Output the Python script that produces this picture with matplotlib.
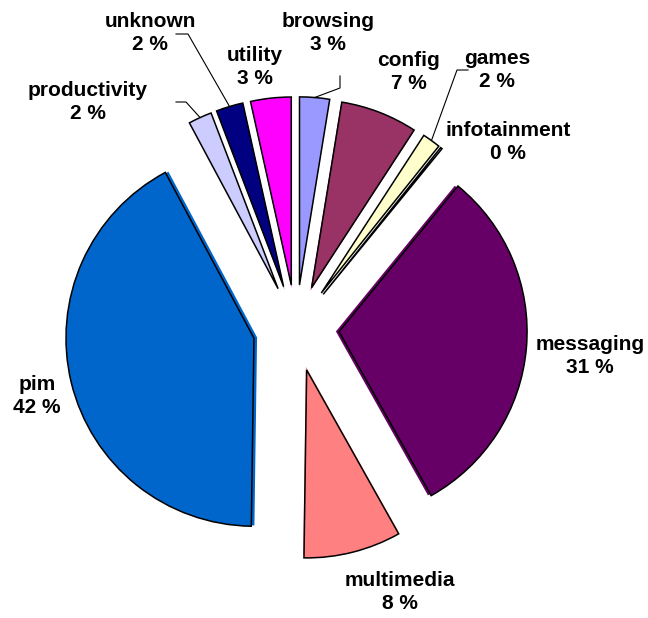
import matplotlib
matplotlib.use("Agg")
import matplotlib.pyplot as plt
import numpy as np

# slices, clockwise from 12 o'clock
categories = ["browsing", "config", "games", "infotainment", "messaging",
              "multimedia", "pim", "productivity", "unknown", "utility"]
shares = [2.55, 6.55, 1.55, 0.15, 30.7, 8.3, 41.6, 2.0, 2.3, 3.45]
colors = ["#9999FF", "#993366", "#FFFFCC", "#CCFFFF", "#660066",
          "#FF8080", "#0066CC", "#CCCCFF", "#000080", "#FF00FF"]

# label centres in figure pixels (from top-left)
label_pos = {
    "browsing": (328, 33), "config": (409, 72), "games": (497, 70),
    "infotainment": (508, 142), "messaging": (590, 356),
    "multimedia": (400, 592), "pim": (37, 396), "productivity": (88, 102),
    "unknown": (150, 33), "utility": (255, 67),
}
# leader lines: start point and elbow, figure pixels from top-left
leaders = {
    "unknown": [(176, 34), (188, 34)],
    "productivity": [(176, 102), (186, 102)],
    "browsing": [(340, 76), (340, 88)],
    "games": [(468, 70), (457, 70)],
}

W, H = 648, 618
R = 188.0
cx, cy = 296, 328

fig = plt.figure(figsize=(W / 100, H / 100), dpi=100)
ax = fig.add_axes([0, 0, 1, 1])
ax.axis("off")

# shadow layer, slightly less exploded
ax.pie(shares, colors=colors, startangle=90, counterclock=False,
       explode=[0.213] * len(shares), radius=1,
       wedgeprops=dict(linewidth=0))
wedges, _ = ax.pie(shares, colors=colors, startangle=90, counterclock=False,
                   explode=[0.23] * len(shares), radius=1,
                   wedgeprops=dict(edgecolor="black", linewidth=1.1))
ax.set_xlim(-cx / R, (W - cx) / R)
ax.set_ylim(-(H - cy) / R, cy / R)

total = sum(shares)
for name, val in zip(categories, shares):
    x, y = label_pos[name]
    fig.text(x / W, 1 - y / H, f"{name}\n{val / total * 100:.0f} %",
             ha="center", va="center", fontsize=15, fontweight="bold",
             family="Liberation Sans", linespacing=1.25)

inv = ax.transData.inverted()
for name, pts in leaders.items():
    w = wedges[categories.index(name)]
    th = np.deg2rad((w.theta1 + w.theta2) / 2)
    ex = w.center[0] + w.r * np.cos(th)
    ey = w.center[1] + w.r * np.sin(th)
    xs, ys = [], []
    for px, py in pts:
        dx, dy = inv.transform((px, H - py))
        xs.append(dx)
        ys.append(dy)
    xs.append(ex)
    ys.append(ey)
    ax.plot(xs, ys, color="black", linewidth=0.8)

fig.savefig("out.png", dpi=100)
